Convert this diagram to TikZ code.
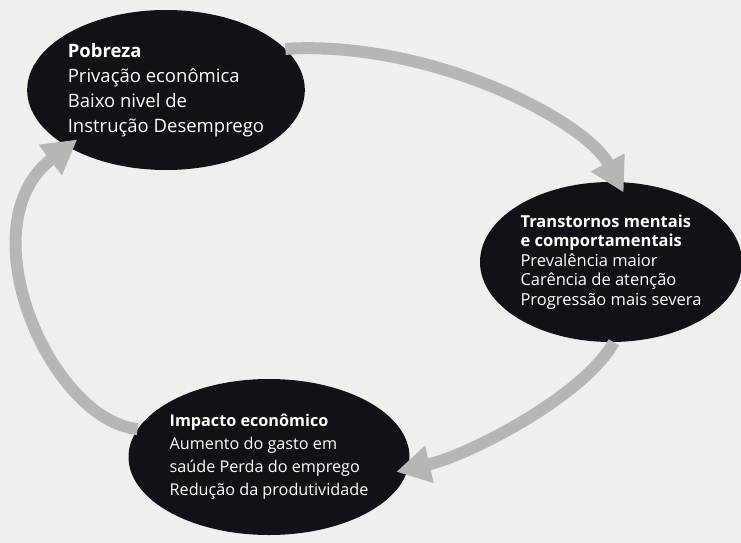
\documentclass[tikz,border=0pt]{standalone}
\usepackage{fontspec}
\setmainfont{Open Sans}
\usetikzlibrary{shapes.geometric,arrows.meta}
\definecolor{paper}{RGB}{239,239,237}
\definecolor{blob}{RGB}{18,17,24}
\definecolor{flow}{RGB}{182,182,182}
\begin{document}
\begin{tikzpicture}[
  x=1pt,y=-1pt,
  box/.style={ellipse,fill=blob,text=white,inner sep=0pt,align=left},
  cyc/.style={draw=flow,line width=12pt,-{Triangle[length=34pt,width=36pt]},shorten >=-12pt}
]
  \useasboundingbox (0,0) rectangle (741,543);
  \fill[paper] (0,0) rectangle (741,543);
  \node[box,minimum width=272pt,minimum height=160pt,font=\fontsize{18.5}{25}\selectfont] (pob) at (166,90)
    {\textbf{Pobreza}\\Privação econômica\\Baixo nivel de\\Instrução Desemprego};
  \node[box,minimum width=262pt,minimum height=160pt,font=\fontsize{16.5}{19.5}\selectfont] (trans) at (611,262)
    {\textbf{Transtornos mentais}\\\textbf{e comportamentais}\\Prevalência maior\\Carência de atenção\\Progressão mais severa};
  \node[box,minimum width=272pt,minimum height=156pt,font=\fontsize{16.2}{23}\selectfont] (imp) at (269,457)
    {\textbf{Impacto econômico}\\Aumento do gasto em\\saúde Perda do emprego\\Redução da produtividade};
  \draw[cyc] (pob.19) .. controls (430,40) and (585,120) .. (trans.85);
  \draw[cyc] (trans.272) .. controls (585,395) and (470,455) .. (imp.-5);
  \draw[cyc] (imp.168) .. controls (50,420) and (-35,225) .. (pob.210);
\end{tikzpicture}
\end{document}
